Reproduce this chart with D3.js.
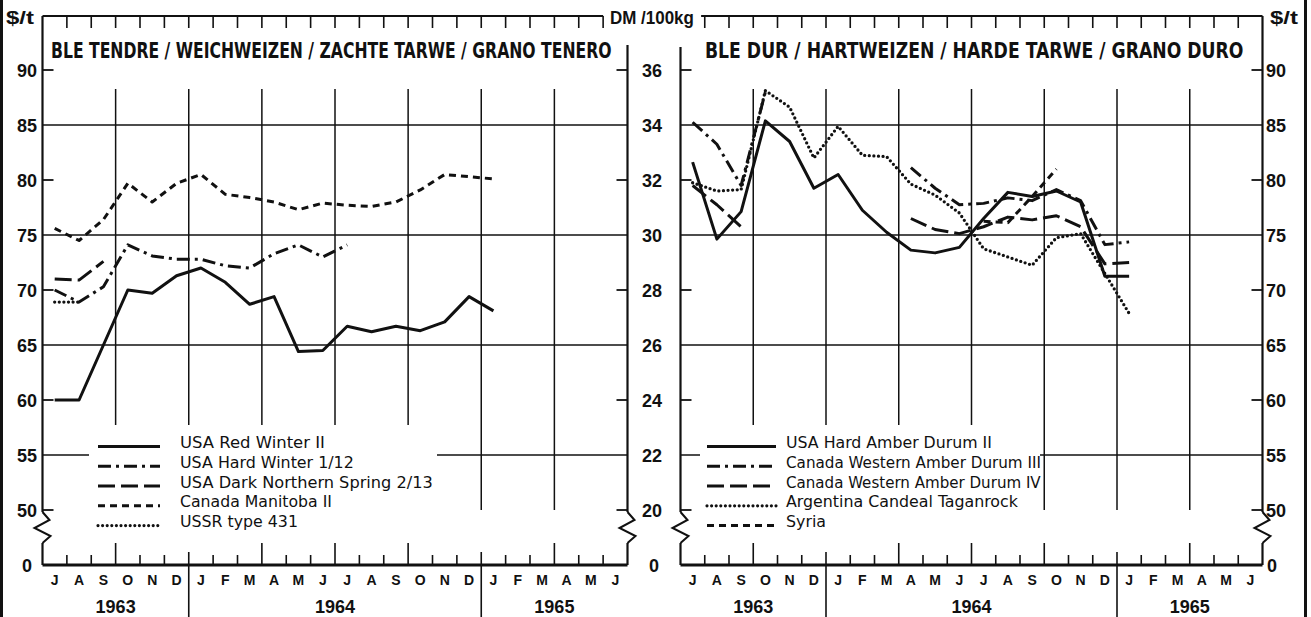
<!DOCTYPE html>
<html lang="fr">
<head>
  <meta charset="UTF-8">
  <title>Blé tendre / Blé dur 1963-1965</title>
  <script src="https://d3js.org/d3.v7.min.js"></script>
  <style>
    * { margin: 0; padding: 0; box-sizing: border-box; }
    body { background: #fff; width: 1311px; height: 617px; overflow: hidden; }
    svg { display: block; }
    .num { font-family: "Liberation Sans", Arial, sans-serif; font-weight: bold; fill: #111; }
    .ttl { font-family: "DejaVu Sans Condensed", "DejaVu Sans", sans-serif; font-stretch: condensed; font-weight: bold; fill: #111; }
    .leg { font-family: "DejaVu Sans Condensed", "DejaVu Sans", sans-serif; font-stretch: condensed; fill: #111; }
  </style>
</head>
<body>
  <div id="chart"></div>
  <script>
    // month 0 = July 1963 ... month 23 = June 1965
    const monthLabels = ["J","A","S","O","N","D","J","F","M","A","M","J",
                         "J","A","S","O","N","D","J","F","M","A","M","J"];
    const yearLabels = ["1963", "1964", "1965"];
    const yearBounds = [0, 6, 18, 24];

    const usdTicks = [50, 55, 60, 65, 70, 75, 80, 85, 90];
    const dmTicks = [20, 22, 24, 26, 28, 30, 32, 34, 36];
    const usdGrid = [55, 65, 75, 85];
    const dmGrid = [22, 26, 30, 34];

    // BLE TENDRE, $/t
    const softNames = ["USA Red Winter II", "USA Hard Winter 1/12", "USA Dark Northern Spring 2/13",
                       "Canada Manitoba II", "USSR type 431"];
    const usaRedWinter = [60.0, 60.0, 65.0, 70.0, 69.7, 71.3, 72.0, 70.7, 68.7, 69.4, 64.4, 64.5,
                          66.7, 66.2, 66.7, 66.3, 67.1, 69.4, 68.1];
    const usaHardWinter = [70.0, 68.9, 70.3, 74.1, 73.1, 72.8, 72.8, 72.2, 72.0, 73.3, 74.1, 73.0, 74.1];
    const usaDarkNorthern = [71.0, 70.9, 72.6];
    const canadaManitoba = [75.6, 74.5, 76.4, 79.7, 78.0, 79.7, 80.5, 78.7, 78.4, 78.0, 77.3, 77.9,
                            77.7, 77.6, 78.0, 79.1, 80.5, 80.3, 80.1];
    const ussr431 = [68.9, 68.9];
    const softStyles = ["solid", "dashdot", "longdash", "shortdash", "dotted"];

    // BLE DUR, DM/100kg
    const durumNames = ["USA Hard Amber Durum II", "Canada Western Amber Durum III", "Canada Western Amber Durum IV",
                        "Argentina Candeal Taganrock", "Syria"];
    const usaHardAmber = [32.65, 29.85, 30.85, 34.15, 33.4, 31.7, 32.2, 30.9, 30.1, 29.45, 29.35, 29.55,
                          30.6, 31.55, 31.4, 31.6, 31.2, 28.5, 28.5];
    const canadaDurum3 = [34.1, 33.3, 31.8, 35.2, null, null, null, null, null, 32.45, 31.7, 31.1,
                          31.15, 31.35, 31.25, 31.65, 31.25, 29.65, 29.75];
    const canadaDurum4 = [31.8, 31.1, 30.3, null, null, null, null, null, null, 30.6, 30.2, 30.05,
                          30.3, 30.65, 30.55, 30.7, 30.3, 28.95, 29.0];
    const argentina = [31.9, 31.6, 31.65, 35.25, 34.65, 32.8, 33.95, 32.9, 32.85, 31.85, 31.45, 30.8,
                       29.5, 29.2, 28.9, 29.9, 30.05, 28.6, 27.15];
    const syria = [null, null, null, null, null, null, null, null, null, null, null, null,
                   30.5, 30.45, 31.4, 32.4];
    const durumStyles = ["solid", "dashdot", "longdash", "dotted", "shortdash"];

    const dashOf = {solid: null, dashdot: "13,5,3,5", longdash: "17,6", shortdash: "7,5", dotted: "0,4.6"};

    const W = 1311, H = 617;
    const yTop = 16, yBase = 565, yGridTop = 89;

    const yUsd = d3.scaleLinear().domain([50, 90]).range([510, 70]);
    const yDm = d3.scaleLinear().domain([20, 36]).range([510, 70]);

    const svg = d3.select("#chart").append("svg")
      .attr("width", W).attr("height", H);

    // squeeze a text horizontally to a given width
    function fitText(sel, x, y, w) {
      const n = sel.node().getComputedTextLength();
      sel.attr("x", 0).attr("y", 0)
        .attr("transform", `translate(${x},${y}) scale(${(w / n).toFixed(4)},1)`);
      return sel;
    }

    const panels = [
      {x0: 42.5, x1: 627.5, y: yUsd, grid: usdGrid, topRange: [0, 23],
       leftTop: yTop, rightTop: 45,
       title: "BLE TENDRE / WEICHWEIZEN / ZACHTE TARWE / GRANO TENERO", titleX: 51, titleW: 561,
       series: [usaRedWinter, usaHardWinter, usaDarkNorthern, canadaManitoba, ussr431],
       styles: softStyles,
       names: softNames, legX: 98, legSw: 62, legTextX: 180, legW: [145, 174, 253, 152, 118], legBox: [89, 437]},
      {x0: 680.5, x1: 1262.5, y: yDm, grid: dmGrid, topRange: [0.85, 24],
       leftTop: 47, rightTop: yTop,
       title: "BLE DUR / HARTWEIZEN / HARDE TARWE / GRANO DURO", titleX: 705, titleW: 539,
       series: [usaHardAmber, canadaDurum3, canadaDurum4, argentina, syria],
       styles: durumStyles,
       names: durumNames, legX: 707, legSw: 69, legTextX: 786, legW: [206, 255, 255, 232, 40], legBox: [700, 1040]}
    ];

    const legRows = [442.5, 462.3, 482, 501.8, 521.6];

    function zigzag(x, top) {
      return `M${x},${top} L${x + 7},${top + 8} L${x - 8},${top + 16} L${x + 8},${top + 24} L${x},${top + 31}`;
    }

    panels.forEach(p => {
      const x = d3.scaleLinear().domain([0, 24]).range([p.x0, p.x1]);
      const y = p.y;
      const g = svg.append("g");
      const yLow = y(y.domain()[0]);

      // horizontal grid
      g.selectAll(".hg").data(p.grid).join("line")
        .attr("x1", p.x0).attr("x2", p.x1)
        .attr("y1", d => y(d)).attr("y2", d => y(d))
        .attr("stroke", "#111").attr("stroke-width", 1.6);

      // vertical grid at quarters
      g.selectAll(".vg").data(d3.range(3, 24, 3)).join("line")
        .attr("x1", d => x(d)).attr("x2", d => x(d))
        .attr("y1", yGridTop).attr("y2", yLow)
        .attr("stroke", "#111").attr("stroke-width", 1.5);

      // axes with break
      [[p.x0, p.leftTop, 1], [p.x1, p.rightTop, -1]].forEach(([ax, top, dir]) => {
        g.append("line").attr("x1", ax).attr("x2", ax).attr("y1", top).attr("y2", yLow + 2)
          .attr("stroke", "#111").attr("stroke-width", 2.2);
        g.append("path").attr("d", zigzag(ax, yLow + 2)).attr("fill", "none")
          .attr("stroke", "#111").attr("stroke-width", 2);
        g.append("line").attr("x1", ax).attr("x2", ax).attr("y1", yLow + 33).attr("y2", yBase)
          .attr("stroke", "#111").attr("stroke-width", 2.2);
        g.selectAll(null).data(y.ticks(8).filter(v => !p.grid.includes(v))).join("line")
          .attr("x1", ax).attr("x2", ax + dir * 11)
          .attr("y1", d => y(d)).attr("y2", d => y(d))
          .attr("stroke", "#111").attr("stroke-width", 1.8);
      });

      // top frame line + month ticks
      g.append("line").attr("x1", x(p.topRange[0])).attr("x2", x(p.topRange[1]))
        .attr("y1", yTop).attr("y2", yTop).attr("stroke", "#111").attr("stroke-width", 2);
      g.selectAll(".tt").data(d3.range(1, 24)).join("line")
        .attr("x1", d => x(d)).attr("x2", d => x(d))
        .attr("y1", yTop).attr("y2", yTop + 12)
        .attr("stroke", "#111").attr("stroke-width", 1.6);

      // baseline + month ticks
      g.append("line").attr("x1", p.x0).attr("x2", p.x1).attr("y1", yBase).attr("y2", yBase)
        .attr("stroke", "#111").attr("stroke-width", 3);
      g.selectAll(".bt").data(d3.range(1, 24)).join("line")
        .attr("x1", d => x(d)).attr("x2", d => x(d))
        .attr("y1", yBase)
        .attr("y2", d => yBase - (yearBounds.includes(d) ? 13 : d % 3 === 0 ? 22 : 10))
        .attr("stroke", "#111").attr("stroke-width", 1.6);
      g.selectAll(".ys").data(yearBounds.slice(1, 3)).join("line")
        .attr("x1", d => x(d)).attr("x2", d => x(d))
        .attr("y1", yBase).attr("y2", H)
        .attr("stroke", "#111").attr("stroke-width", 1.6);

      // month + year labels
      g.selectAll(".ml").data(monthLabels).join("text")
        .attr("class", "num").attr("x", (d, i) => x(i + 0.5)).attr("y", 585)
        .attr("text-anchor", "middle").style("font-size", "14px").text(d => d);
      g.selectAll(".yl").data(yearLabels).join("text")
        .attr("class", "num").attr("x", (d, i) => x((yearBounds[i] + yearBounds[i + 1]) / 2))
        .attr("y", 612.5).attr("text-anchor", "middle").style("font-size", "18px").text(d => d);

      // title
      fitText(g.append("text").attr("class", "ttl").style("font-size", "21px").text(p.title),
              p.titleX, 58, p.titleW);

      // legend
      const lg = g.append("g");
      lg.append("rect").attr("x", p.legBox[0]).attr("y", 425)
        .attr("width", p.legBox[1] - p.legBox[0]).attr("height", 87).attr("fill", "#fff");
      p.names.forEach((name, i) => {
        const st = p.styles[i];
        lg.append("line").attr("x1", p.legX).attr("x2", p.legX + p.legSw)
          .attr("y1", legRows[i] + 4).attr("y2", legRows[i] + 4)
          .attr("stroke", "#111").attr("stroke-width", st === "dotted" ? 3.2 : 3)
          .attr("stroke-dasharray", dashOf[st])
          .attr("stroke-linecap", st === "dotted" ? "round" : "butt");
        fitText(lg.append("text").attr("class", "leg").style("font-size", "16px").text(name),
                p.legTextX, legRows[i] + 5.5, p.legW[i]);
      });

      // series
      const line = d3.line()
        .defined(d => d != null)
        .x((d, i) => x(i + 0.5))
        .y(d => y(d));
      p.series.forEach((vals, i) => {
        const st = p.styles[i];
        g.append("path").datum(vals).attr("d", line)
          .attr("fill", "none").attr("stroke", "#111")
          .attr("stroke-width", st === "dotted" ? 3.3 : 3)
          .attr("stroke-linejoin", "round")
          .attr("stroke-linecap", st === "dotted" ? "round" : "butt")
          .attr("stroke-dasharray", dashOf[st]);
      });
    });

    // tick labels
    const tl = svg.append("g");
    tl.selectAll(".l").data(usdTicks).join("text").attr("class", "num")
      .attr("x", 37).attr("y", d => yUsd(d) + 6.5).attr("text-anchor", "end")
      .style("font-size", "18px").text(d => d);
    tl.selectAll(".m").data(dmTicks).join("text").attr("class", "num")
      .attr("x", 652).attr("y", d => yDm(d) + 6.5).attr("text-anchor", "middle")
      .style("font-size", "18px").text(d => d);
    tl.selectAll(".r").data(usdTicks).join("text").attr("class", "num")
      .attr("x", 1266).attr("y", d => yUsd(d) + 6.5).attr("text-anchor", "start")
      .style("font-size", "18px").text(d => d);
    [[32, "end"], [654, "middle"], [1267, "start"]].forEach(([xx, anc]) => {
      tl.append("text").attr("class", "num").attr("x", xx).attr("y", yBase + 7)
        .attr("text-anchor", anc).style("font-size", "18px").text("0");
    });

    // unit labels
    fitText(tl.append("text").attr("class", "num").style("font-size", "19px").text("$/t"), 6, 24, 28);
    fitText(tl.append("text").attr("class", "num").style("font-size", "19px").text("DM /100kg"), 610, 24, 84);
    fitText(tl.append("text").attr("class", "num").style("font-size", "19px").text("$/t"), 1270, 24, 28);

    // scan frame edges
    [1.5, 1305.5].forEach(xx => {
      svg.append("line").attr("x1", xx).attr("x2", xx).attr("y1", 0).attr("y2", H)
        .attr("stroke", "#111").attr("stroke-width", 3);
    });
  </script>
</body>
</html>
